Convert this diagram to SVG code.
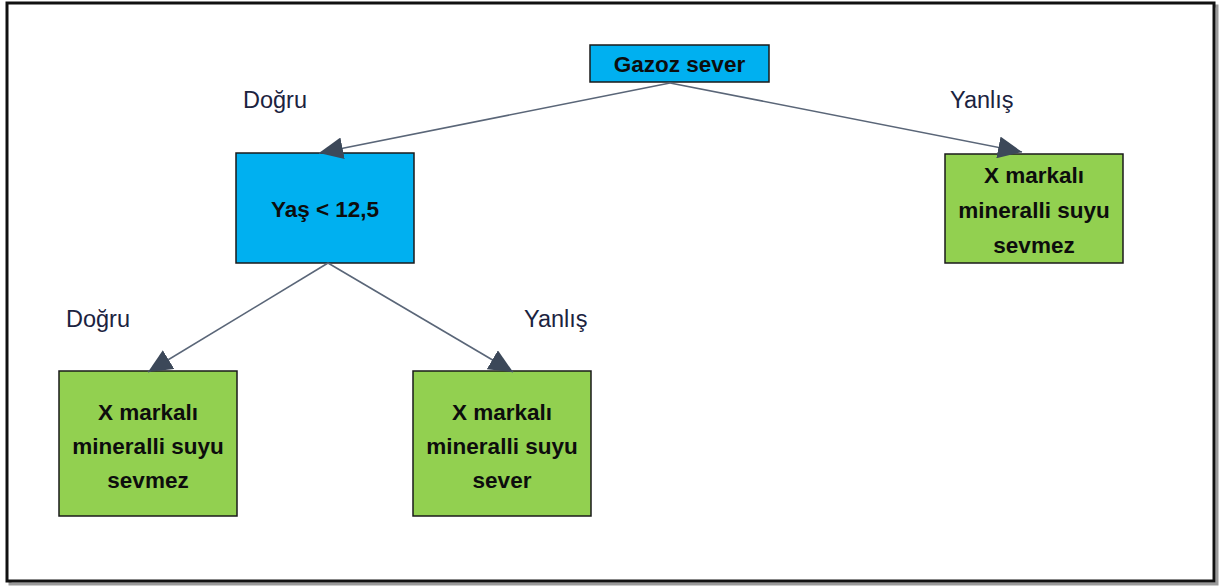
<svg xmlns="http://www.w3.org/2000/svg" width="1219" height="586" viewBox="0 0 1219 586">
<style>
.frame{fill:#fff;stroke:#111;stroke-width:3}
.shadow{fill:none;stroke:#9a9a9a;stroke-width:3}
.blue{fill:#00B0F0;stroke:#1a1a1a;stroke-width:1.5}
.green{fill:#92D050;stroke:#1a1a1a;stroke-width:1.5}
.nt{font-family:"Liberation Sans",Arial,sans-serif;font-weight:bold;font-size:22.5px;fill:#0d0d0d;text-anchor:middle}
.lbl{font-family:"Liberation Sans",Arial,sans-serif;font-size:23.5px;fill:#1b2340}
.conn{stroke:#5a6678;stroke-width:1.6;fill:none;marker-end:url(#ah)}
</style>
<defs>
<marker id="ah" markerUnits="userSpaceOnUse" markerWidth="24" markerHeight="22" viewBox="0 0 24 22" refX="24" refY="11" orient="auto">
<path d="M0,0 L24,11 L0,22 z" fill="#3c4859"/>
</marker>
</defs>
<rect class="shadow" x="10" y="6" width="1207" height="578"/>
<rect class="frame" x="7" y="3" width="1207" height="578"/>

<g id="node-gazoz">
<rect class="blue" x="590" y="45" width="179" height="37"/>
<text class="nt" x="679.5" y="72">Gazoz sever</text>
</g>
<g id="node-yas">
<rect class="blue" x="236" y="153" width="178" height="110"/>
<text class="nt" x="325" y="217">Yaş &lt; 12,5</text>
</g>
<g id="node-right">
<rect class="green" x="945" y="154" width="178" height="109"/>
<text class="nt" x="1034" y="183">X markalı</text>
<text class="nt" x="1034" y="218">mineralli suyu</text>
<text class="nt" x="1034" y="253">sevmez</text>
</g>
<g id="node-bl">
<rect class="green" x="59" y="371" width="178" height="145"/>
<text class="nt" x="148" y="420">X markalı</text>
<text class="nt" x="148" y="454">mineralli suyu</text>
<text class="nt" x="148" y="488">sevmez</text>
</g>
<g id="node-br">
<rect class="green" x="413" y="371" width="178" height="145"/>
<text class="nt" x="502" y="420">X markalı</text>
<text class="nt" x="502" y="454">mineralli suyu</text>
<text class="nt" x="502" y="488">sever</text>
</g>

<g id="connectors">
<line class="conn" x1="670" y1="83" x2="319" y2="153"/>
<line class="conn" x1="670" y1="83" x2="1022" y2="152"/>
<line class="conn" x1="328" y1="263" x2="148" y2="372"/>
<line class="conn" x1="328" y1="263" x2="513" y2="372"/>
</g>

<g id="labels">
<text class="lbl" x="243" y="108">Doğru</text>
<text class="lbl" x="950" y="108">Yanlış</text>
<text class="lbl" x="66" y="327">Doğru</text>
<text class="lbl" x="524" y="327">Yanlış</text>
</g>
</svg>
